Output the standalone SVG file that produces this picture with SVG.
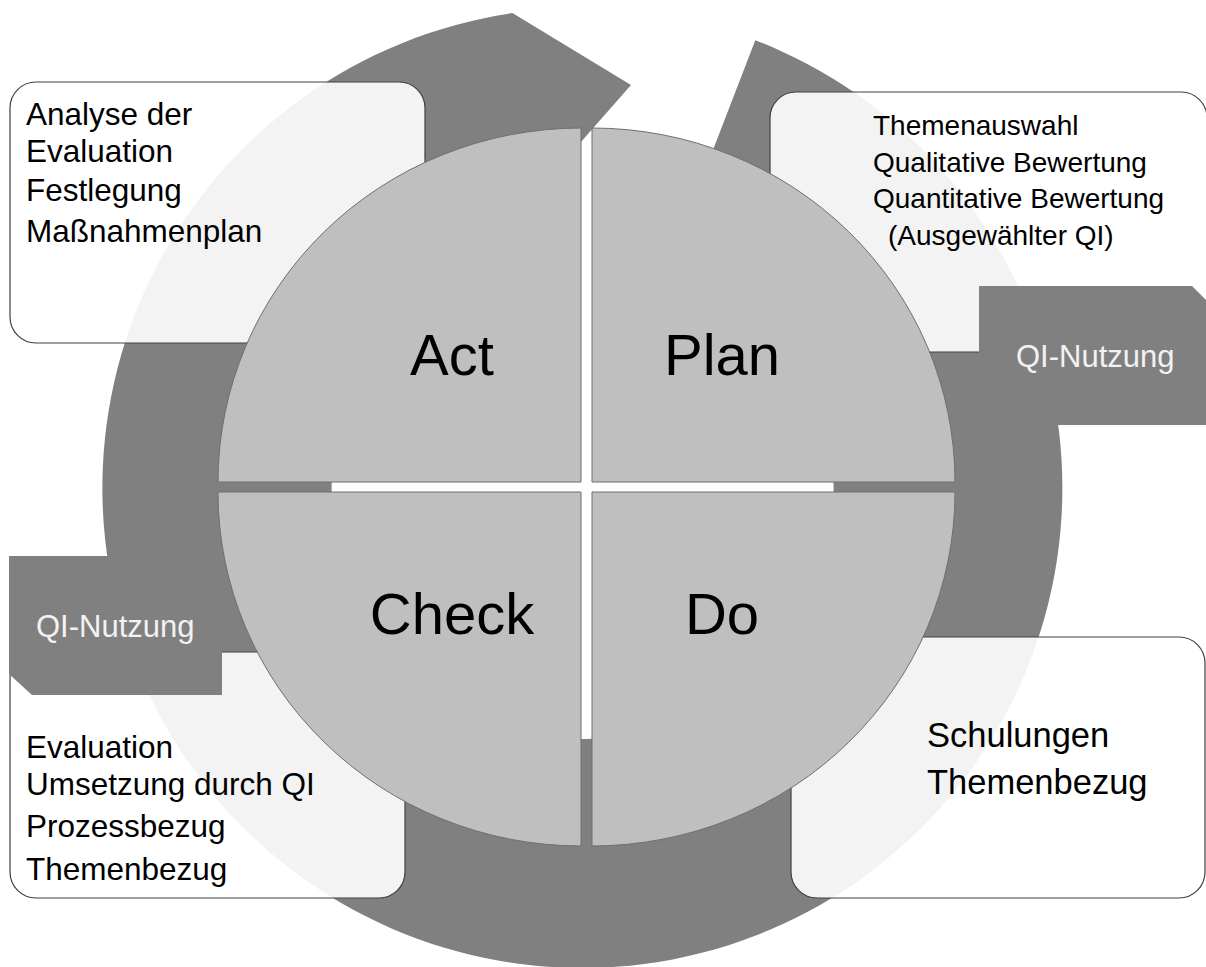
<svg xmlns="http://www.w3.org/2000/svg" width="1206" height="967" viewBox="0 0 1206 967">
<style>
  .ring { fill: #808080; }
  .box { fill: #ffffff; fill-opacity: 0.9; stroke: #404040; stroke-width: 1.2; }
  .qi { fill: #808080; }
  .quad { fill: #bfbfbf; stroke: #6f6f6f; stroke-width: 1; }
  .t { font-family: "Liberation Sans", Arial, sans-serif; fill: #000000; }
  .qit { font-family: "Liberation Sans", Arial, sans-serif; fill: #f2f2f2; font-size: 31px; }
  .big { font-family: "Liberation Sans", Arial, sans-serif; fill: #000000; font-size: 58px; text-anchor: middle; }
</style>
<rect x="0" y="0" width="1206" height="967" fill="#ffffff"/>
<g id="connectors">
  <path class="ring" d="M 755.3 40.2 A 480 480 0 1 1 512.4 13.1 L 631 85 L 538.5 190.2 L 545.8 239.7 A 251 251 0 1 0 672.9 253.8 Z"/>
</g>
<g id="box-act">
  <rect class="box" x="10" y="82" width="415" height="261" rx="26" ry="26"/>
  <text class="t" font-size="31.5" x="26" y="125">Analyse der</text>
  <text class="t" font-size="31.5" x="26" y="162">Evaluation</text>
  <text class="t" font-size="31.5" x="26" y="201">Festlegung</text>
  <text class="t" font-size="31.5" x="26" y="242">Maßnahmenplan</text>
</g>
<g id="box-plan">
  <rect class="box" x="770" y="92" width="437" height="260" rx="26" ry="26"/>
  <text class="t" font-size="28" x="873" y="135">Themenauswahl</text>
  <text class="t" font-size="28" x="873" y="172">Qualitative Bewertung</text>
  <text class="t" font-size="28" x="873" y="208">Quantitative Bewertung</text>
  <text class="t" font-size="28" x="888" y="245">(Ausgewählter QI)</text>
</g>
<g id="box-check">
  <rect class="box" x="10" y="652" width="395" height="246" rx="26" ry="26"/>
  <text class="t" font-size="31.5" x="26" y="758">Evaluation</text>
  <text class="t" font-size="31.5" x="26" y="795">Umsetzung durch QI</text>
  <text class="t" font-size="31.5" x="26" y="837">Prozessbezug</text>
  <text class="t" font-size="31.5" x="26" y="880">Themenbezug</text>
</g>
<g id="box-do">
  <rect class="box" x="791" y="637" width="414" height="261" rx="26" ry="26"/>
  <text class="t" font-size="34.5" x="927" y="747">Schulungen</text>
  <text class="t" font-size="34.5" x="927" y="794">Themenbezug</text>
</g>
<g id="qi-right">
  <polygon class="qi" points="979,286 1192,286 1206,300 1206,425 979,425"/>
  <text class="qit" x="1016" y="367">QI-Nutzung</text>
</g>
<g id="qi-left">
  <polygon class="qi" points="9,556 222,556 222,695 32,695 9,674"/>
  <text class="qit" x="36" y="637">QI-Nutzung</text>
</g>
<g id="q-act">
  <path class="quad" d="M 581 482 L 218 482 A 363 354 0 0 1 581 128 Z"/>
  <text class="big" x="452" y="375">Act</text>
</g>
<g id="q-plan">
  <path class="quad" d="M 592 482 L 592 128 A 363 354 0 0 1 955 482 Z"/>
  <text class="big" x="722" y="375">Plan</text>
</g>
<g id="q-do">
  <path class="quad" d="M 592 492 L 955 492 A 363 354 0 0 1 592 846 Z"/>
  <text class="big" x="722" y="634">Do</text>
</g>
<g id="q-check">
  <path class="quad" d="M 581 492 L 581 846 A 363 354 0 0 1 218 492 Z"/>
  <text class="big" x="452" y="634">Check</text>
</g>
</svg>
